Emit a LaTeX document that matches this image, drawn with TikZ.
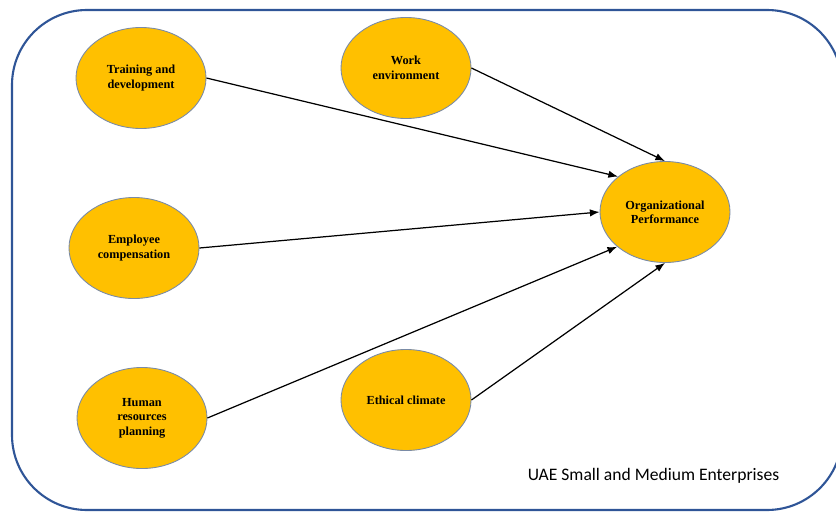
\documentclass[tikz,border=0pt]{standalone}
\usepackage{fontspec}
\setmainfont{Liberation Serif}
\newfontfamily\uifont{Carlito}
\usetikzlibrary{shapes.geometric,arrows.meta,positioning}
\definecolor{gold}{HTML}{FFC000}
\definecolor{frameblue}{HTML}{2F5597}
\definecolor{rimgray}{HTML}{7A8BA6}

\begin{document}
\begin{tikzpicture}[>={Latex[length=5.5pt,width=4.2pt]},
  factor/.style={ellipse,draw=rimgray,line width=0.5pt,fill=gold,inner sep=0pt,
    minimum width=2.6cm,minimum height=2.02cm,align=center,
    font=\fontsize{7}{8.2}\selectfont\bfseries},
  link/.style={->,line width=0.7pt}]
  \useasboundingbox (0,0) rectangle (16.72,10.24);
  \draw[frameblue,line width=1.2pt,rounded corners=1.5cm] (0.24,0.04) rectangle (16.84,10.04);
  \node[factor](train) at (2.82,8.68){Training and\\development};
  \node[factor](work) at (8.12,8.88){Work\\environment};
  \node[factor](comp) at (2.68,5.28){Employee\\compensation};
  \node[factor](hrp) at (2.84,1.88){Human\\resources\\planning};
  \node[factor](ethic) at (8.12,2.24){Ethical climate};
  \node[factor](perf) at (13.30,6.00){Organizational\\Performance};
  \draw[link](train.east)--(perf.143);
  \draw[link](work.east)--(perf.north);
  \draw[link](comp.east)--(perf.west);
  \draw[link](hrp.east)--(perf.216);
  \draw[link](ethic.east)--(perf.south);
  \node[font=\uifont\fontsize{10}{12}\selectfont](sme) at (13.07,0.72){UAE Small and Medium Enterprises};
\end{tikzpicture}
\end{document}
